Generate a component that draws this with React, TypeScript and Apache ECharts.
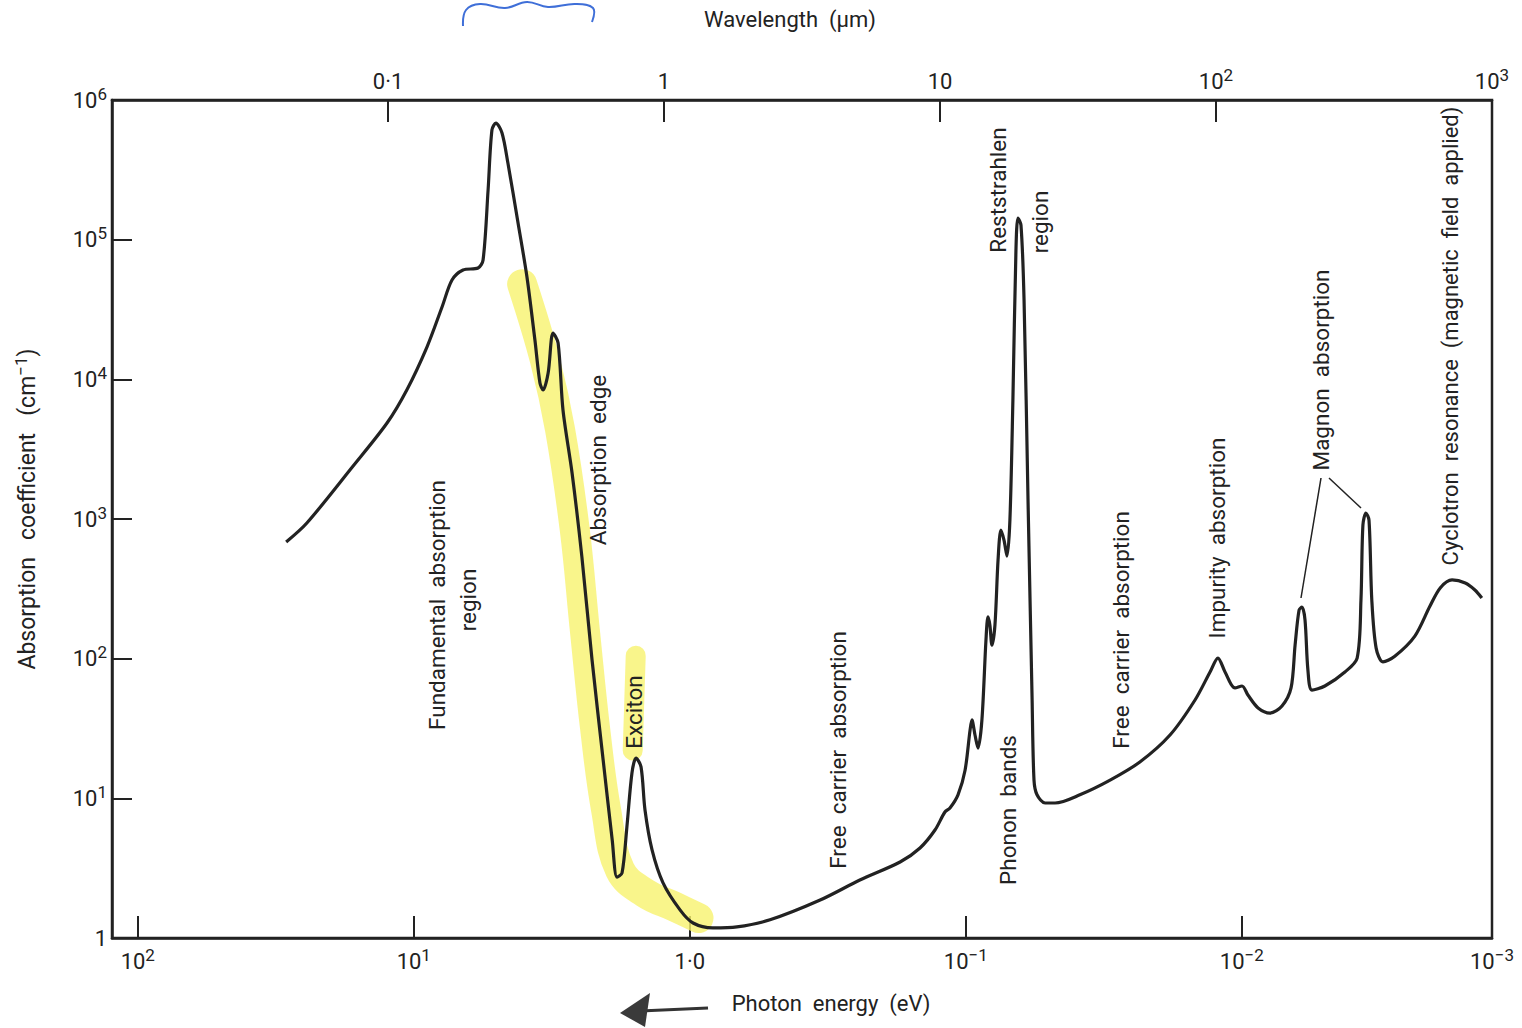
import React, { useEffect, useRef } from "react";
import * as echarts from "echarts";

// Photon energy (eV) and absorption coefficient (cm^-1) along the curve
const photonEnergyEv = [
  29.0, 24.4, 16.7, 12.5, 10.6, 8.96, 7.9, 7.27, 6.63, 5.85,
  5.61, 5.38, 5.21, 5.04, 4.79, 4.56, 4.19, 3.89, 3.64, 3.49,
  3.4, 3.26, 3.13, 3.0, 2.88, 2.67, 2.46, 2.26, 2.06, 1.91,
  1.835, 1.76, 1.69, 1.62, 1.566, 1.502, 1.453, 1.37, 1.25, 1.085,
  0.973, 0.824, 0.675, 0.512, 0.337, 0.242, 0.173, 0.1465, 0.1293, 0.119,
  0.1141, 0.1067, 0.1006, 0.0965, 0.095, 0.0926, 0.0903, 0.0874, 0.0845, 0.0831,
  0.0818, 0.0804, 0.0784, 0.0764, 0.0746, 0.0727, 0.0709, 0.0692, 0.0675, 0.0658,
  0.0647, 0.0631, 0.0615, 0.0595, 0.0575, 0.0566, 0.0552, 0.0516, 0.0475, 0.0386,
  0.03, 0.0234, 0.0182, 0.01477, 0.01303, 0.0122, 0.0115, 0.01058, 0.00998, 0.0095,
  0.00873, 0.0079, 0.00715, 0.00663, 0.00641, 0.0062, 0.00605, 0.0059, 0.00576, 0.00557,
  0.005, 0.00423, 0.00382, 0.0037, 0.00364, 0.00355, 0.00346, 0.00338, 0.00326, 0.00308,
  0.00279, 0.00236, 0.00208, 0.00191, 0.00173, 0.00155, 0.00143, 0.00135,
];
const absorptionCoeff = [
  684, 936, 2356, 4866, 8390, 17030, 32950, 51400, 60650, 62700,
  71500, 226800, 609500, 684000, 580300, 353700, 131600, 54050, 19110, 9410,
  8390, 11100, 21460, 18200, 6030, 2134, 535, 97.8, 18.8, 5.03,
  2.73, 2.92, 6.23, 15.2, 19.4, 16.8, 8.25, 4.27, 2.48, 1.59,
  1.28, 1.18, 1.2, 1.35, 1.87, 2.6, 3.5, 4.41, 5.93, 7.98,
  8.53, 10.6, 15.9, 30.8, 36.4, 28.4, 22.9, 36.4, 136, 199,
  174, 125, 174, 509, 834, 707, 543, 983, 7110, 84300,
  142900, 127300, 36980, 1368, 50.6, 13.5, 10.6, 9.26, 9.26, 10.6,
  13.5, 18.2, 28.4, 50.6, 80.3, 101, 80.3, 61.7, 63.7, 54.9,
  44.4, 40.8, 45.8, 61.7, 125, 223, 234, 189, 83, 59.6,
  63.7, 80.3, 101, 263, 906, 1104, 983, 263, 119, 94.7,
  104, 145, 238, 321, 366, 348, 310, 272,
];

// Yellow highlighter strokes (hand annotation on the scan)
const highlightEnergy = [4.05, 3.35, 2.95, 2.61, 2.4, 2.2, 2.01, 1.79, 1.453, 1.131, 0.93];
const highlightAlpha = [48000, 13750, 4340, 834, 160, 30.8, 8.25, 3.07, 2.1, 1.67, 1.39];
const excitonHighlightEnergy = [1.57, 1.61];
const excitonHighlightAlpha = [105, 22];

// Axis ranges
const energyRange = [0.00124, 124];
const wavelengthRange = [0.01, 1000];
const alphaRange = [1, 1e6];

const FONT = "Roboto, 'DejaVu Sans', sans-serif";
const INK = "#222";

const supRich = {
  s: { fontSize: 17, verticalAlign: "top" as const, fontFamily: FONT, color: INK },
};

function energyLabel(v: number): string {
  if (v > 110) return "";
  if (v < 0.002) return "10{s|\u22123}";
  const e = Math.round(Math.log10(v));
  if (e === 0) return "1\u00b70";
  return "10{s|" + (e < 0 ? "\u2212" + -e : String(e)) + "}";
}
function wavelengthLabel(v: number): string {
  if (v < 0.05) return "";
  const e = Math.round(Math.log10(v));
  if (e === -1) return "0\u00b71";
  if (e === 0) return "1";
  if (e === 1) return "10";
  return "10{s|" + e + "}";
}
function alphaLabel(v: number): string {
  const e = Math.round(Math.log10(v));
  if (e === 0) return "1";
  return "10{s|" + e + "}";
}

function vText(text: string, x: number, y: number, size = 22.5) {
  return {
    type: "text",
    x,
    y,
    z: 100,
    rotation: Math.PI / 2,
    silent: true,
    style: {
      text,
      fill: INK,
      font: `${size}px ${FONT}`,
      align: "center",
      verticalAlign: "middle",
    },
  };
}

export default function App() {
  const ref = useRef<HTMLDivElement>(null);
  useEffect(() => {
    if (!ref.current) return;
    document.body.style.margin = "0";
    const chart = echarts.init(ref.current, undefined, { renderer: "svg" });
    const axisLineStyle = { color: INK, width: 2.5 };
    const tickStyle = { color: INK, width: 2 };
    chart.setOption({
      animation: false,
      backgroundColor: "#fff",
      textStyle: { fontFamily: FONT },
      grid: {
        left: 112,
        right: 30,
        top: 100,
        bottom: 90,
        show: true,
        borderColor: INK,
        borderWidth: 2.5,
        backgroundColor: "transparent",
      },
      xAxis: [
        {
          type: "log",
          logBase: 10,
          inverse: true,
          min: energyRange[0],
          max: energyRange[1],
          position: "bottom",
          axisLine: { show: true, lineStyle: axisLineStyle },
          axisTick: { show: true, inside: true, length: 22, lineStyle: tickStyle },
          splitLine: { show: false },
          minorTick: { show: false },
          axisLabel: {
            show: true,
            showMinLabel: true,
            showMaxLabel: true,
            margin: 8,
            fontSize: 22,
            lineHeight: 30,
            color: INK,
            fontFamily: FONT,
            formatter: energyLabel,
            rich: supRich,
          },
        },
        {
          type: "log",
          logBase: 10,
          min: wavelengthRange[0],
          max: wavelengthRange[1],
          position: "top",
          name: "Wavelength  (\u03bcm)",
          nameLocation: "middle",
          nameGap: 70,
          nameTextStyle: { fontSize: 22, color: INK, fontFamily: FONT, padding: [0, 24, 0, 0] },
          axisLine: { show: true, lineStyle: axisLineStyle },
          axisTick: { show: true, inside: true, length: 22, lineStyle: tickStyle },
          splitLine: { show: false },
          axisLabel: {
            show: true,
            showMinLabel: true,
            showMaxLabel: true,
            margin: 4,
            fontSize: 22,
            lineHeight: 30,
            color: INK,
            fontFamily: FONT,
            formatter: wavelengthLabel,
            rich: supRich,
          },
        },
      ],
      yAxis: {
        type: "log",
        logBase: 10,
        min: alphaRange[0],
        max: alphaRange[1],
        name: "Absorption   coefficient   (cm{s|\u22121})",
        nameLocation: "middle",
        nameRotate: 90,
        nameGap: 70,
        nameTextStyle: { fontSize: 23, color: INK, fontFamily: FONT, lineHeight: 30, rich: supRich, padding: [0, 0, 0, 20] },
        axisLine: { show: true, lineStyle: axisLineStyle },
        axisTick: { show: true, inside: true, length: 20, lineStyle: tickStyle },
        splitLine: { show: false },
        axisLabel: {
          show: true,
          margin: 5,
          fontSize: 22,
          lineHeight: 30,
          color: INK,
          fontFamily: FONT,
          formatter: alphaLabel,
          rich: supRich,
        },
      },
      series: [
        {
          type: "line",
          name: "highlight",
          xAxisIndex: 0,
          yAxisIndex: 0,
          data: highlightEnergy.map((e, i) => [e, highlightAlpha[i]]),
          symbol: "none",
          smooth: 0.4,
          silent: true,
          z: 1,
          lineStyle: { color: "rgba(248, 242, 110, 0.8)", width: 30, cap: "round", join: "round" },
        },
        {
          type: "line",
          name: "exciton highlight",
          xAxisIndex: 0,
          yAxisIndex: 0,
          data: excitonHighlightEnergy.map((e, i) => [e, excitonHighlightAlpha[i]]),
          symbol: "none",
          silent: true,
          z: 1,
          lineStyle: { color: "rgba(248, 242, 110, 0.8)", width: 20, cap: "round" },
        },
        {
          type: "line",
          name: "Absorption coefficient",
          xAxisIndex: 0,
          yAxisIndex: 0,
          data: photonEnergyEv.map((e, i) => [e, absorptionCoeff[i]]),
          symbol: "none",
          smooth: 0.3,
          silent: true,
          z: 3,
          lineStyle: { color: INK, width: 3.2, join: "round" },
        },
      ],
      graphic: [
        vText("Fundamental  absorption", 437, 605),
        vText("region", 468, 600),
        vText("Absorption  edge", 598, 460),
        vText("Exciton", 634, 712),
        vText("Free  carrier  absorption", 838, 750),
        vText("Phonon  bands", 1008, 810),
        vText("Reststrahlen", 998, 190),
        vText("region", 1040, 222),
        vText("Free  carrier  absorption", 1121, 630),
        vText("Impurity  absorption", 1217, 538),
        vText("Magnon  absorption", 1321, 370),
        vText("Cyclotron  resonance  (magnetic  field  applied)", 1450, 336, 22),
        {
          type: "line",
          silent: true,
          z: 100,
          shape: { x1: 1321, y1: 478, x2: 1301, y2: 598 },
          style: { stroke: INK, lineWidth: 1.5 },
        },
        {
          type: "line",
          silent: true,
          z: 100,
          shape: { x1: 1329, y1: 478, x2: 1361, y2: 508 },
          style: { stroke: INK, lineWidth: 1.5 },
        },
        {
          type: "text",
          x: 831,
          y: 1003,
          z: 100,
          silent: true,
          style: {
            text: "Photon  energy  (eV)",
            fill: INK,
            font: `22px ${FONT}`,
            align: "center",
            verticalAlign: "middle",
          },
        },
        {
          type: "line",
          silent: true,
          z: 100,
          shape: { x1: 640, y1: 1011, x2: 708, y2: 1008 },
          style: { stroke: "#333", lineWidth: 3 },
        },
        {
          type: "polygon",
          silent: true,
          z: 100,
          shape: { points: [[620, 1013], [650, 993], [645, 1027]] },
          style: { fill: "#3a3a3a" },
        },
        {
          type: "polyline",
          silent: true,
          z: 100,
          shape: {
            points: [[463, 26], [466, 10], [480, 4], [505, 8], [527, 2], [548, 7], [575, 4], [593, 8], [592, 22]],
            smooth: 0.4,
          },
          style: { stroke: "#3f6fd8", lineWidth: 2, fill: "none" },
        },
      ],
    });
    return () => chart.dispose();
  }, []);
  return <div ref={ref} style={{ width: 1522, height: 1028 }} />;
}
